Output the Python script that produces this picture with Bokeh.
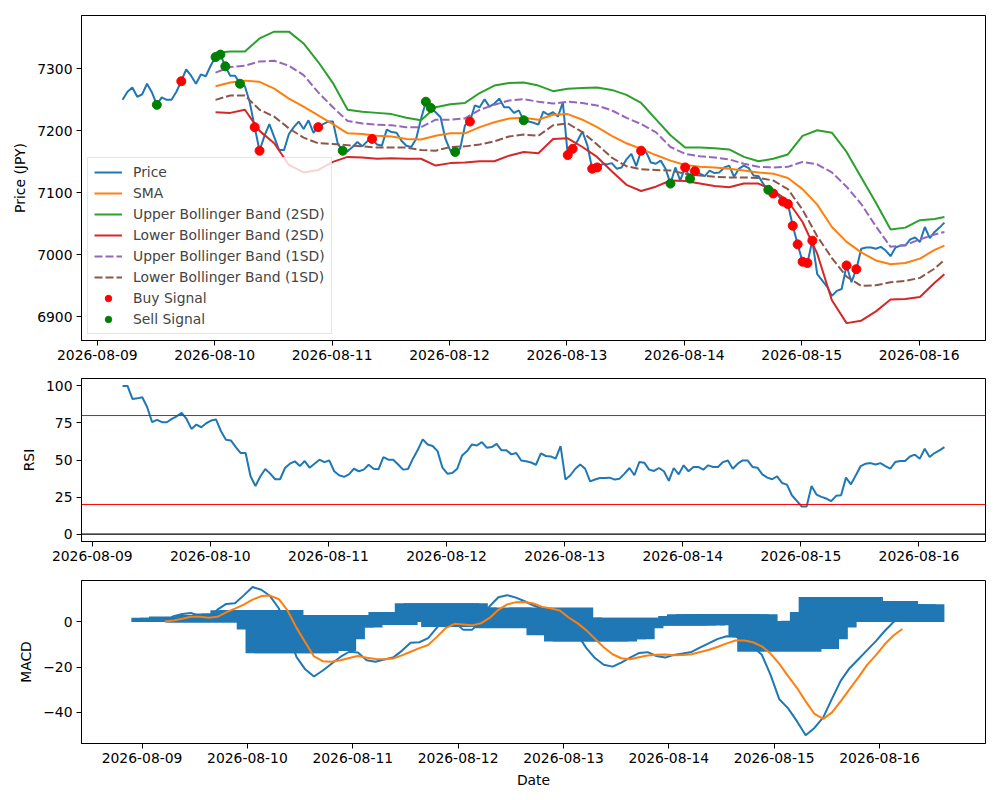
import numpy as np
import pandas as pd
from bokeh.plotting import figure
from bokeh.layouts import column
from bokeh.models import Range1d, FixedTicker, DatetimeTickFormatter, Span
from bokeh.embed import file_html
from bokeh.resources import INLINE

# hourly timestamps of the price series
start = pd.Timestamp("2026-08-09 05:10")
dates = pd.date_range(start, periods=169, freq="h")

price = [
    7250, 7263, 7270, 7255, 7259, 7276, 7262, 7242, 7254, 7250,
    7250, 7263, 7280, 7299, 7289, 7276, 7291, 7288, 7305, 7319,
    7323, 7304, 7289, 7289, 7276, 7272, 7246, 7206, 7168, 7192,
    7211, 7190, 7169, 7169, 7195, 7206, 7215, 7203, 7217, 7197,
    7206, 7211, 7215, 7215, 7179, 7168, 7167, 7174, 7182, 7175,
    7183, 7187, 7178, 7176, 7202, 7198, 7197, 7184, 7176, 7174,
    7187, 7219, 7247, 7237, 7230, 7222, 7187, 7168, 7166, 7171,
    7209, 7215, 7241, 7238, 7251, 7239, 7244, 7252, 7238, 7238,
    7229, 7233, 7217, 7215, 7213, 7210, 7231, 7226, 7230, 7223,
    7246, 7161, 7171, 7184, 7199, 7177, 7139, 7141, 7146, 7146,
    7148, 7139, 7141, 7154, 7163, 7143, 7168, 7166, 7149, 7147,
    7152, 7139, 7115, 7141, 7120, 7141, 7123, 7135, 7131, 7127,
    7136, 7132, 7133, 7141, 7144, 7126, 7139, 7144, 7140, 7128,
    7127, 7114, 7105, 7099, 7096, 7086, 7082, 7047, 7017, 6989,
    6987, 7023, 6969, 6959, 6949, 6934, 6942, 6945, 6983, 6956,
    6977, 7010, 7012, 7012, 7010, 7013, 7007, 6998, 7012, 7015,
    7015, 7025, 7028, 7021, 7045, 7027, 7037, 7044, 7052,
]
buy_idx = [12, 27, 28, 40, 51, 71, 91, 92, 96, 97, 106, 115, 117,
           133, 135, 136, 137, 138, 139, 140, 141, 148, 150]
sell_idx = [7, 19, 20, 21, 24, 45, 62, 63, 68, 82, 112, 116, 132]

# Bollinger values, read every third hour from hour 19
band_hours = list(range(19, 167, 3)) + [168]
sma = [
    7272, 7278, 7281, 7279, 7268, 7252, 7239, 7225, 7211, 7196,
    7195, 7192, 7191, 7187, 7186, 7192, 7196, 7196, 7206, 7214,
    7220, 7221, 7218, 7226, 7227, 7218, 7206, 7192, 7180, 7171,
    7161, 7152, 7145, 7142, 7141, 7139, 7136, 7133, 7131, 7124,
    7106, 7081, 7045, 7021, 7004, 6991, 6985, 6987, 6994, 7008, 7015,
]
upper_2sd = [
    7326, 7328, 7328, 7349, 7360, 7360, 7341, 7311, 7277, 7234,
    7231, 7229, 7227, 7221, 7217, 7238, 7243, 7245, 7261, 7273,
    7277, 7278, 7273, 7264, 7268, 7269, 7270, 7266, 7258, 7245,
    7219, 7193, 7173, 7173, 7172, 7170, 7158, 7151, 7155, 7162,
    7192, 7201, 7197, 7166, 7125, 7084, 7041, 7044, 7056, 7058, 7061,
]
lower_2sd = [
    7230, 7229, 7234, 7200, 7180, 7145, 7133, 7137, 7150, 7158,
    7157, 7155, 7156, 7155, 7155, 7144, 7148, 7149, 7151, 7151,
    7160, 7166, 7164, 7187, 7188, 7174, 7158, 7135, 7113, 7103,
    7110, 7120, 7119, 7115, 7111, 7109, 7115, 7115, 7104, 7087,
    7053, 7002, 6927, 6890, 6894, 6909, 6928, 6929, 6932, 6955, 6969,
]
upper_1sd = [
    7294, 7303, 7305, 7312, 7313, 7305, 7290, 7262, 7238, 7216,
    7212, 7210, 7209, 7206, 7206, 7218, 7218, 7220, 7234, 7242,
    7249, 7251, 7247, 7244, 7247, 7245, 7241, 7233, 7221, 7211,
    7198, 7174, 7163, 7159, 7157, 7154, 7147, 7142, 7141, 7142,
    7150, 7146, 7133, 7110, 7082, 7046, 7013, 7016, 7025, 7033, 7037,
]
lower_1sd = [
    7250, 7257, 7257, 7234, 7223, 7204, 7189, 7180, 7179, 7177,
    7175, 7173, 7173, 7173, 7169, 7168, 7174, 7175, 7178, 7183,
    7191, 7194, 7192, 7209, 7212, 7198, 7178, 7157, 7143, 7138,
    7137, 7136, 7131, 7128, 7126, 7125, 7125, 7124, 7120, 7106,
    7073, 7030, 6995, 6965, 6950, 6951, 6956, 6958, 6963, 6978, 6992,
]

# RSI from the second hour on
rsi = [
    100, 100, 91.2, 91.6, 92.3, 85.6, 75.5, 77.1, 75.5, 75.5,
    77.7, 79.5, 81.8, 77.7, 71.0, 73.9, 72.1, 74.8, 76.6, 77.3,
    69.4, 63.6, 63.2, 58.7, 54.7, 54.7, 39.0, 32.5, 39.0, 43.9,
    40.8, 37.0, 37.0, 44.6, 47.5, 49.1, 45.9, 49.3, 44.8, 47.5,
    50.2, 48.6, 49.7, 42.4, 39.7, 38.6, 40.3, 44.1, 42.4, 43.5,
    46.8, 44.1, 43.7, 52.0, 50.2, 50.2, 47.0, 43.5, 43.9, 50.9,
    56.9, 63.9, 60.5, 59.4, 56.0, 44.8, 40.8, 41.2, 44.1, 53.1,
    56.0, 60.5, 59.8, 62.1, 58.3, 58.7, 60.9, 56.5, 56.5, 53.8,
    54.7, 49.7, 49.1, 48.3, 46.8, 54.5, 52.7, 52.4, 50.9, 59.4,
    36.8, 39.7, 44.1, 47.0, 44.1, 35.6, 36.8, 37.9, 37.9, 38.1,
    36.8, 37.4, 40.8, 44.6, 39.7, 48.6, 48.2, 43.5, 42.6, 44.6,
    42.4, 35.9, 44.6, 40.3, 46.4, 42.4, 45.3, 45.3, 43.5, 46.4,
    45.3, 45.3, 48.6, 49.7, 44.1, 47.5, 49.7, 49.7, 45.3, 44.8,
    40.3, 38.1, 37.0, 39.0, 34.5, 33.4, 26.2, 22.4, 18.6, 18.6,
    32.5, 26.7, 25.1, 24.0, 22.2, 25.8, 26.2, 38.1, 33.6, 39.7,
    45.9, 47.5, 47.9, 47.0, 47.9, 45.9, 44.1, 48.6, 49.3, 49.3,
    52.4, 53.6, 50.9, 57.6, 52.0, 54.7, 56.5, 58.7,
]
rsi_levels = [80, 20]
rsi_base = 0

# MACD values, read every second hour
macd_hours = list(range(0, 169, 2))
macd = [
    0.0, 2.6, 3.5, 4.0, 2.5, 1.5, 5.5, 8.0, 8.3, 11.8,
    15.5, 14.3, 11.5, 6.0, -4.0, -15.5, -21.0, -24.2, -21.5, -18.5,
    -15.5, -13.2, -13.5, -17.0, -17.6, -16.6, -15.8, -12.8, -9.2, -9.0,
    -7.2, -2.5, 2.0, 0.0, -3.5, -3.5, 0.5, 7.0, 11.0, 11.9,
    10.8, 9.2, 7.3, 5.9, 5.6, 5.5, -2.0, -5.5, -11.5, -16.0,
    -19.0, -19.8, -18.0, -15.8, -13.8, -13.4, -15.1, -15.8, -14.6, -14.0,
    -13.3, -11.3, -9.4, -7.5, -6.3, -6.5, -8.0, -11.0, -14.5, -23.5,
    -34.3, -38.3, -44.0, -50.2, -47.0, -42.3, -34.0, -26.0, -20.5, -16.5,
    -12.5, -8.5, -4.0, 0.0, 2.5,
]
signal = [
    0.2, 0.7, 1.4, 2.3, 2.3, 1.9, 2.3, 4.3, 5.9, 7.7,
    9.9, 11.5, 11.7, 10.1, 5.0, -2.5, -9.0, -15.3, -17.4, -17.6,
    -17.0, -16.0, -15.1, -15.9, -16.4, -16.5, -16.2, -14.8, -13.2, -11.6,
    -10.2, -6.6, -2.7, -0.8, -1.1, -1.5, -0.6, 1.8, 5.4, 7.8,
    8.8, 8.9, 8.2, 6.7, 6.0, 5.1, 2.0, -0.5, -3.6, -7.4,
    -11.2, -14.3, -16.1, -16.5, -15.6, -14.9, -14.5, -14.4, -14.8, -14.6,
    -14.3, -13.3, -12.3, -11.0, -9.5, -8.2, -8.2, -9.0, -10.8, -14.0,
    -18.6, -24.0, -29.2, -35.2, -40.8, -43.0, -40.1, -35.1, -29.8, -24.6,
    -19.0, -14.7, -9.9, -6.0, -3.1,
]
macd_hist = [
    0.0, 1.9, 1.9, 2.4, 1.5, -0.3, 3.1, 2.8, 3.8, 3.8,
    5.2, 5.3, 3.1, -3.3, -13.9, -13.9, -12.9, -12.9, -7.7, -2.5,
    -2.5, 3.1, 3.1, 1.5, -1.3, 0.5, 1.5, 2.5, 4.4, 3.5,
    4.0, 8.3, 8.3, 6.4, -2.2, -2.2, 1.5, 6.4, 6.0, 4.0,
    -2.8, -1.5, 0.5, 3.0, 6.4, 2.0, -5.9, -5.5, -8.7, -8.7,
    -7.7, -7.7, -2.8, 1.9, 1.9, 0.5, -1.0, -1.6, -1.6, -1.6,
    0.8, 2.7, 3.4, 3.4, 3.4, 3.4, 0.4, -1.0, -1.5, -6.5,
    -13.2, -12.0, -12.0, -7.7, -2.5, 0.5, 4.4, 11.1, 9.3, 9.3,
    9.3, 9.3, 7.9, 7.9, 7.9,
]

day_ticks = ["2026-08-09", "2026-08-10", "2026-08-11", "2026-08-12",
             "2026-08-13", "2026-08-14", "2026-08-15", "2026-08-16"]
price_ticks = [6900, 7000, 7100, 7200, 7300]
rsi_ticks = [0, 25, 50, 75, 100]
macd_ticks = [-40, -20, 0]

C0, C1, C2, C3, C4, C5 = "#1f77b4", "#ff7f0e", "#2ca02c", "#d62728", "#9467bd", "#8c564b"
FONT = "DejaVu Sans"
FS = "13.9px"

epoch = pd.Timestamp("1970-01-01")


def to_ms(t):
    return np.array((pd.DatetimeIndex(t) - epoch) / pd.Timedelta(milliseconds=1), dtype=float)


x = to_ms(dates)
day_ms = list(to_ms(pd.to_datetime(day_ticks)))
px = np.array(price, dtype=float)
bx = x[band_hours]
mx = x[macd_hours]
bar_w = 0.8 * 86400000


def padded(lo, hi, frac=0.05):
    pad = (hi - lo) * frac
    return Range1d(lo - pad, hi + pad)


def style(p, yticks):
    p.xgrid.visible = False
    p.ygrid.visible = False
    p.outline_line_color = "black"
    p.outline_line_width = 1
    p.background_fill_color = "white"
    p.border_fill_color = "white"
    for ax in (p.xaxis, p.yaxis):
        ax.axis_line_color = "black"
        ax.major_tick_line_color = "black"
        ax.minor_tick_line_color = None
        ax.major_tick_out = 5
        ax.major_tick_in = 0
        ax.major_label_standoff = 4
        ax.major_label_text_font = FONT
        ax.major_label_text_font_size = FS
        ax.major_label_text_color = "black"
        ax.axis_label_text_font = FONT
        ax.axis_label_text_font_size = FS
        ax.axis_label_text_font_style = "normal"
        ax.axis_label_text_color = "black"
        ax.axis_label_standoff = 6
    p.xaxis.ticker = FixedTicker(ticks=day_ms)
    p.xaxis.formatter = DatetimeTickFormatter(hours="%Y-%m-%d", days="%Y-%m-%d",
                                              months="%Y-%m-%d", years="%Y-%m-%d")
    p.yaxis.ticker = FixedTicker(ticks=yticks)


# --- price with Bollinger bands
p1 = figure(width=992, height=370, x_axis_type="datetime",
            x_range=padded(x[0], x[-1]), y_range=Range1d(6862, 7386),
            output_backend="svg", toolbar_location=None,
            min_border_left=81, min_border_right=7, min_border_top=15, min_border_bottom=30)
style(p1, price_ticks)
p1.yaxis.axis_label = "Price (JPY)"

p1.line(x, px, color=C0, line_width=2, legend_label="Price")
p1.line(bx, sma, color=C1, line_width=2, legend_label="SMA")
p1.line(bx, upper_2sd, color=C2, line_width=2, legend_label="Upper Bollinger Band (2SD)")
p1.line(bx, lower_2sd, color=C3, line_width=2, legend_label="Lower Bollinger Band (2SD)")
p1.line(bx, upper_1sd, color=C4, line_width=2, line_dash="8 3", legend_label="Upper Bollinger Band (1SD)")
p1.line(bx, lower_1sd, color=C5, line_width=2, line_dash="8 3", legend_label="Lower Bollinger Band (1SD)")
p1.scatter(x[buy_idx], px[buy_idx], size=9, color="red", legend_label="Buy Signal")
p1.scatter(x[sell_idx], px[sell_idx], size=9, color="green", legend_label="Sell Signal")

p1.legend.location = "bottom_left"
p1.legend.label_text_font = FONT
p1.legend.label_text_font_size = FS
p1.legend.border_line_color = "#cccccc"
p1.legend.border_line_width = 1
p1.legend.background_fill_alpha = 0.8
p1.legend.glyph_width = 28
p1.legend.glyph_height = 16
p1.legend.label_height = 16
p1.legend.label_standoff = 11
p1.legend.spacing = 5
p1.legend.padding = 6
p1.legend.margin = 6

# --- RSI
p2 = figure(width=992, height=202, x_axis_type="datetime",
            x_range=padded(x[1], x[-1]), y_range=Range1d(-5, 105),
            output_backend="svg", toolbar_location=None,
            min_border_left=81, min_border_right=7, min_border_top=8, min_border_bottom=31)
style(p2, rsi_ticks)
p2.yaxis.axis_label = "RSI"
p2.line(x[1:], rsi, color=C0, line_width=2)
for lvl in rsi_levels:
    p2.add_layout(Span(location=lvl, dimension="width", line_color="red", line_width=1))
p2.add_layout(Span(location=rsi_base, dimension="width", line_color="black", line_width=1.2))

# --- MACD
p3 = figure(width=992, height=220, x_axis_type="datetime",
            x_range=padded(x[0] - bar_w / 2, x[-1] + bar_w / 2), y_range=Range1d(-53.9, 18.4),
            output_backend="svg", toolbar_location=None,
            min_border_left=81, min_border_right=7, min_border_top=8, min_border_bottom=49)
style(p3, macd_ticks)
p3.yaxis.axis_label = "MACD"
p3.xaxis.axis_label = "Date"
p3.yaxis.major_label_overrides = {-40: "\u221240", -20: "\u221220"}
p3.vbar(x=mx, top=macd_hist, bottom=0, width=bar_w, fill_color=C0, line_color=None)
p3.line(mx, macd, color=C0, line_width=2)
p3.line(mx, signal, color=C1, line_width=2)

layout = column(p1, p2, p3)
open("out.html", "w").write(file_html(layout, INLINE))
